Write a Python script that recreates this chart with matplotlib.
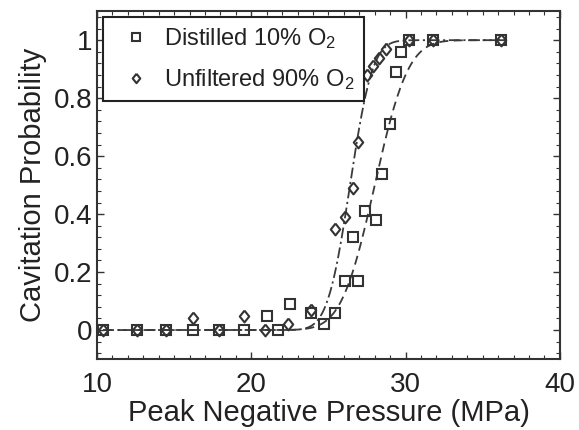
import math
import numpy as np
import matplotlib
matplotlib.use("Agg")
import matplotlib.pyplot as plt
from matplotlib.ticker import MultipleLocator

plt.rcParams['font.family'] = ['Liberation Sans', 'DejaVu Sans']
plt.rcParams['mathtext.fontset'] = 'custom'
plt.rcParams['mathtext.rm'] = 'Liberation Sans'
plt.rcParams['mathtext.it'] = 'Liberation Sans'
plt.rcParams['mathtext.default'] = 'regular'

# Data
distilled_x = [10.4, 12.6, 14.5, 16.2, 17.9, 19.5, 21.0, 21.7, 22.5, 23.9, 24.7, 25.4,
               26.1, 26.9, 26.6, 27.4, 28.1, 28.5, 29.0, 29.4, 29.7, 30.2, 31.8, 36.2]
distilled_y = [0, 0, 0, 0, 0, 0, 0.05, 0, 0.09, 0.06, 0.02, 0.06,
               0.17, 0.17, 0.32, 0.41, 0.38, 0.54, 0.71, 0.89, 0.96, 1.0, 1.0, 1.0]

unfiltered_x = [10.4, 12.6, 14.5, 16.2, 17.9, 19.5, 20.9, 22.4, 23.9, 25.4, 26.1,
                26.6, 26.9, 27.5, 27.9, 28.3, 28.7, 30.2, 31.8, 36.2]
unfiltered_y = [0, 0, 0, 0.04, 0, 0.05, 0, 0.02, 0.07, 0.35, 0.39,
                0.49, 0.65, 0.88, 0.91, 0.94, 0.97, 1.0, 1.0, 1.0]

# Error-function fit parameters (threshold, width)
distilled_fit = (28.0, 1.7)
unfiltered_fit = (26.4, 1.15)
fit_range = (10.4, 36.6)

labels = ['Distilled 10% O$_2$', 'Unfiltered 90% O$_2$']
x_ticks = [10, 20, 30, 40]
y_ticks = [0, 0.2, 0.4, 0.6, 0.8, 1]
y_tick_labels = ['0', '0.2', '0.4', '0.6', '0.8', '1']


def erf_curve(xs, params):
    mu, sigma = params
    return [0.5 * (1 + math.erf((x - mu) / (math.sqrt(2) * sigma))) for x in xs]


fig = plt.figure(figsize=(5.79, 4.30), dpi=100)
ax = fig.add_axes([0.1675, 0.165, 0.7995, 0.809])

xs = np.linspace(fit_range[0], fit_range[1], 400)
lc = '#3a3a3a'
ax.plot(xs, erf_curve(xs, distilled_fit), color=lc, lw=1.3, ls=(0, (5, 3)), zorder=2)
ax.plot(xs, erf_curve(xs, unfiltered_fit), color=lc, lw=1.3, ls=(0, (6, 2, 1.2, 2)), zorder=2)

diamond = [(0, 1), (0.8, 0), (0, -1), (-0.8, 0), (0, 1)]
ax.plot(distilled_x, distilled_y, ls='none', marker='s', ms=7.5, mfc='none',
        mec='#333333', mew=1.5, label=labels[0], zorder=3)
ax.plot(unfiltered_x, unfiltered_y, ls='none', marker=diamond, ms=8.5, mfc='none',
        mec='#333333', mew=1.5, label=labels[1], zorder=3)

ax.set_xlim(10, 40)
ax.set_ylim(-0.1, 1.1)
ax.set_xticks(x_ticks)
ax.set_yticks(y_ticks)
ax.set_yticklabels(y_tick_labels)
ax.xaxis.set_minor_locator(MultipleLocator(1))
ax.yaxis.set_minor_locator(MultipleLocator(0.04))
ax.tick_params(which='both', direction='in', top=True, right=True, color='#333333')
ax.tick_params(which='major', length=5, width=1.0)
ax.tick_params(which='minor', length=3, width=0.8)
ax.tick_params(axis='x', which='major', labelsize=20, pad=9, labelcolor='#222222')
ax.tick_params(axis='y', which='major', labelsize=20, pad=3, labelcolor='#222222')
for s in ax.spines.values():
    s.set_linewidth(1.5)
    s.set_color('#333333')

ax.set_xlabel('Peak Negative Pressure (MPa)', fontsize=21, color='#222222', labelpad=1)
ax.set_ylabel('Cavitation Probability', fontsize=21, color='#222222', labelpad=5)

leg = ax.legend(loc='upper left', fontsize=17, frameon=True, fancybox=False,
                edgecolor='#222222', borderpad=0.4, handlelength=2.0,
                handletextpad=0.2, labelspacing=0.65, borderaxespad=0.25,
                labelcolor='#222222', markerscale=0.8)
leg.get_frame().set_linewidth(1.5)
leg.get_frame().set_alpha(1)

fig.savefig('out.png', dpi=100)
